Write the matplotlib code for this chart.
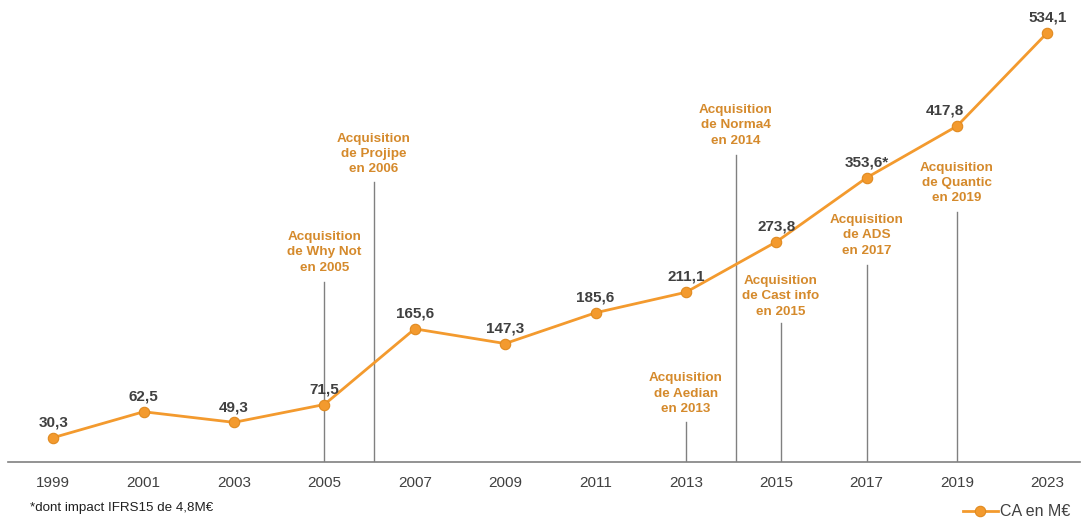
import matplotlib.pyplot as plt
import numpy as np

plt.rcParams['font.family'] = ['Liberation Sans', 'DejaVu Sans']

years = ['1999', '2001', '2003', '2005', '2007', '2009', '2011', '2013', '2015', '2017', '2019', '2023']
ca = [30.3, 62.5, 49.3, 71.5, 165.6, 147.3, 185.6, 211.1, 273.8, 353.6, 417.8, 534.1]
labels = ['30,3', '62,5', '49,3', '71,5', '165,6', '147,3', '185,6', '211,1', '273,8', '353,6*', '417,8', '534,1']

# acquisitions: position on the category axis, text, top of the leader line, text centre
acq_pos = [3.0, 3.55, 7.0, 7.55, 8.05, 9.0, 10.0]
acq_text = ['Acquisition\nde Why Not\nen 2005', 'Acquisition\nde Projipe\nen 2006',
            'Acquisition\nde Aedian\nen 2013', 'Acquisition\nde Norma4\nen 2014',
            'Acquisition\nde Cast info\nen 2015', 'Acquisition\nde ADS\nen 2017',
            'Acquisition\nde Quantic\nen 2019']
acq_line_top = [224, 348, 50, 382, 173, 245, 311]
acq_text_y = [261, 383, 85, 419, 206, 282, 347]

orange = '#F39A2E'
gold = '#D58A2C'

fig = plt.figure(figsize=(10.88, 5.22), dpi=100)
ax = fig.add_axes([8 / 1088, 60 / 522, 1072 / 1088, 462 / 522])

x = np.arange(len(years))
ax.plot(x, ca, color=orange, lw=2, marker='o', ms=7.5, mfc=orange, mec='#E08A20', mew=0.8,
        label='CA en M€', zorder=3)

for xi, yi, lab in zip(x, ca, labels):
    dx = -9 if lab == '417,8' else 0
    ax.annotate(lab, (xi, yi), xytext=(dx, 6), textcoords='offset points', ha='center', va='bottom',
                fontsize=11, fontweight='bold', color='#404040')

for p, t, top, ty in zip(acq_pos, acq_text, acq_line_top, acq_text_y):
    ax.plot([p, p], [0, top], color='#808080', lw=1, zorder=1)
    ax.text(p, ty, t, ha='center', va='center', fontsize=9.7, fontweight='bold', color=gold,
            linespacing=1.38)

ax.set_xlim(-0.5, 11.36)
ax.set_ylim(0, 574.6)
ax.set_xticks(x)
ax.set_xticklabels(years, fontsize=11, color='#404040')
ax.tick_params(axis='x', length=0, pad=10)
ax.set_yticks([])
for s in ['top', 'right', 'left']:
    ax.spines[s].set_visible(False)
ax.spines['bottom'].set_color('#808080')
ax.spines['bottom'].set_linewidth(1.2)

fig.text(30 / 1088, 1 - 508 / 522, '*dont impact IFRS15 de 4,8M€', fontsize=9.6, color='#202020',
         va='center', ha='left')
fig.legend(loc='center right', bbox_to_anchor=(1078 / 1088, 1 - 512 / 522), frameon=False,
           fontsize=11.5, handlelength=2.2, handletextpad=0.1, labelcolor='#404040', borderpad=0)

fig.savefig('out.png', dpi=100)
